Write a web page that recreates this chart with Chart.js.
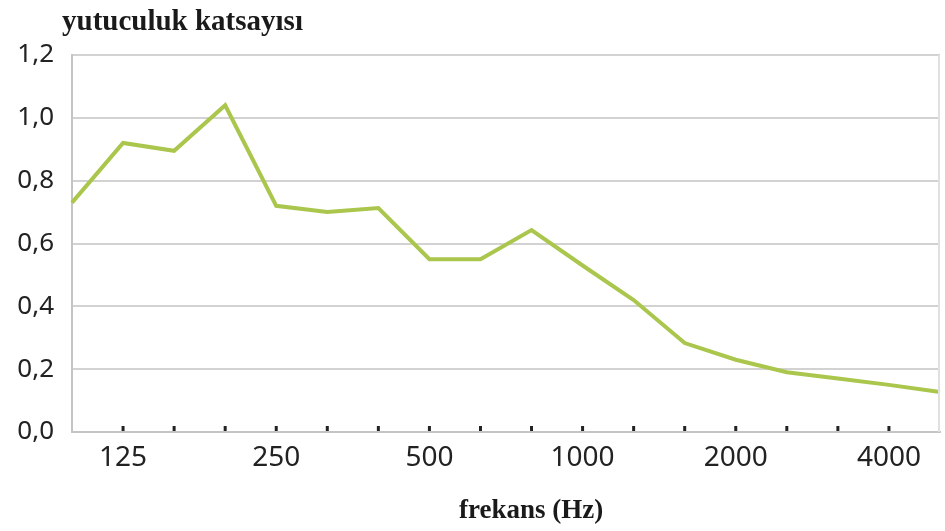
<!DOCTYPE html>
<html>
<head>
<meta charset="utf-8">
<script src="https://cdn.jsdelivr.net/npm/chart.js@4/dist/chart.umd.min.js"></script>
<style>
  html, body { margin: 0; padding: 0; background: #fff; }
  #wrap { width: 945px; height: 531px; }
</style>
</head>
<body>
<div id="wrap"><canvas id="chart"></canvas></div>
<script>
// third-octave band centres (Hz)
const frequencies = [100, 125, 160, 200, 250, 315, 400, 500, 630, 800, 1000, 1250, 1600, 2000, 2500, 3150, 4000, 5000];
// absorption coefficient per band
const absorption = [0.73, 0.92, 0.895, 1.04, 0.72, 0.70, 0.713, 0.55, 0.55, 0.643, 0.53, 0.42, 0.283, 0.23, 0.19, 0.17, 0.15, 0.127];
// only the octave bands get a label
const labelledBands = [125, 250, 500, 1000, 2000, 4000];

const yTitle = 'yutuculuk katsayısı';
const xTitle = 'frekans (Hz)';

// short tick marks sitting on top of the x axis, plus the axis titles
const decorations = {
    id: 'decorations',
    afterDraw(chart) {
        const ctx = chart.ctx;
        const area = chart.chartArea;
        const xs = chart.scales.x;
        ctx.save();

        ctx.strokeStyle = '#222';
        ctx.lineWidth = 3;
        xs.ticks.forEach((t, i) => {
            if (i === 0 || i === xs.ticks.length - 1) return;
            const px = xs.getPixelForTick(i);
            ctx.beginPath();
            ctx.moveTo(px, area.bottom - 1);
            ctx.lineTo(px, area.bottom - 6);
            ctx.stroke();
        });

        // faint right edge
        ctx.strokeStyle = '#e0e0e0';
        ctx.lineWidth = 2;
        ctx.beginPath();
        ctx.moveTo(area.right - 1, area.top);
        ctx.lineTo(area.right - 1, area.bottom);
        ctx.stroke();

        ctx.fillStyle = '#1a1a1a';
        ctx.textBaseline = 'alphabetic';
        ctx.textAlign = 'left';
        ctx.font = 'bold 29px "Liberation Serif", "Times New Roman", serif';
        ctx.fillText(yTitle, area.left - 10, 30);
        ctx.font = 'bold 27px "Liberation Serif", "Times New Roman", serif';
        ctx.fillText(xTitle, 459, 518);
        ctx.restore();
    }
};

new Chart(document.getElementById('chart'), {
    type: 'line',
    data: {
        labels: frequencies,
        datasets: [
            {
                data: absorption,
                borderColor: '#aac64c',
                borderWidth: 4,
                tension: 0,
                pointRadius: 0,
                fill: false
            }
        ]
    },
    options: {
        responsive: true,
        maintainAspectRatio: false,
        animation: false,
        layout: {
            padding: { top: 55, right: 5, left: 0, bottom: 0 }
        },
        plugins: {
            legend: { display: false },
            tooltip: { enabled: false }
        },
        scales: {
            x: {
                type: 'category',
                offset: false,
                afterFit(scale) {
                    scale.height = 99;
                    scale.paddingLeft = 0;
                    scale.paddingRight = 0;
                },
                grid: { display: false, drawTicks: false },
                border: { display: true, color: '#c4c4c4', width: 2 },
                ticks: {
                    autoSkip: false,
                    maxRotation: 0,
                    padding: 9,
                    color: '#222',
                    font: { family: '"Noto Sans", "Open Sans", sans-serif', size: 28 },
                    callback(value) {
                        const f = frequencies[value];
                        return labelledBands.includes(f) ? String(f) : '';
                    }
                }
            },
            y: {
                min: 0,
                max: 1.2,
                afterFit(scale) { scale.width = 72; },
                grid: { color: '#d2d2d2', lineWidth: 2, drawTicks: false },
                border: { display: true, color: '#c4c4c4', width: 2 },
                ticks: {
                    stepSize: 0.2,
                    padding: 18,
                    color: '#222',
                    font: { family: '"Noto Sans", "Open Sans", sans-serif', size: 26 },
                    callback(value) {
                        return value.toFixed(1).replace('.', ',');
                    }
                }
            }
        }
    },
    plugins: [decorations]
});
</script>
</body>
</html>
